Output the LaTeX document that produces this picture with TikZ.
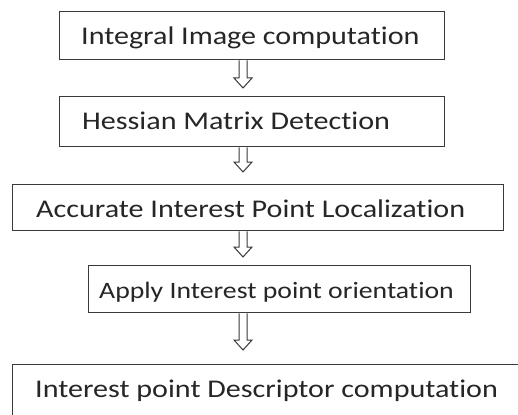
\documentclass[tikz,border=0pt]{standalone}
\usepackage{fontspec}
\setmainfont[Ligatures={NoCommon}]{Carlito}
\usetikzlibrary{calc}
\definecolor{edge}{HTML}{3A3A3A}
\definecolor{ink}{HTML}{262626}
\tikzset{
  box/.style={draw=edge, line width=1.3pt, rectangle, inner sep=0pt, anchor=north west},
  lbl/.style={anchor=base west, inner sep=0pt, text=ink, font=\fontsize{25.5}{28}\selectfont},
  lblsmall/.style={lbl, font=\fontsize{23.5}{26}\selectfont},
  arrowline/.style={draw=edge, line width=1pt, line join=miter}
}
\newcommand\blockarrow[2]{%
  \draw[arrowline] ($(#1)+(-4,0)$) -- ($(#2)+(-4,-10)$) -- ($(#2)+(-9,-10)$) -- (#2)
    -- ($(#2)+(9,-10)$) -- ($(#2)+(4,-10)$) -- ($(#1)+(4,0)$);}
\newcommand\sx[1]{\scalebox{1.18}[1]{#1}}
\begin{document}
\begin{tikzpicture}[x=1pt,y=-1pt]
\fill[white] (0,0) rectangle (518,414);
\useasboundingbox (0,0) rectangle (518,414);
% boxes
\node[box, minimum width=385pt, minimum height=48pt] (b1) at (59,11) {};
\node[box, minimum width=385pt, minimum height=50pt] (b2) at (59,96) {};
\node[box, minimum width=491pt, minimum height=46pt] (b3) at (12,184) {};
\node[box, minimum width=382pt, minimum height=47pt] (b4) at (88,265) {};
\node[box, minimum width=530pt, minimum height=70pt] (b5) at (12,364) {};
% texts
\node[lbl] (t1) at (81,45) {\sx{Integral Image computation}};
\node[lbl] (t2) at (82,130) {\sx{Hessian Matrix Detection}};
\node[lbl] (t3) at (36,217) {\sx{Accurate Interest Point Localization}};
\node[lblsmall] (t4) at (99,298) {\sx{Apply Interest point orientation}};
\node[lbl] (t5) at (35,397) {\sx{Interest point Descriptor computation}};
% arrow anchors
\coordinate (ax) at (243,0);
\coordinate (e1) at (243,88);
\coordinate (e2) at (243,172);
\coordinate (e3) at (243,257);
\coordinate (e4) at (243,350);
\blockarrow{b1.south -| ax}{e1}
\blockarrow{b2.south -| ax}{e2}
\blockarrow{b3.south -| ax}{e3}
\blockarrow{b4.south -| ax}{e4}
\end{tikzpicture}
\end{document}
